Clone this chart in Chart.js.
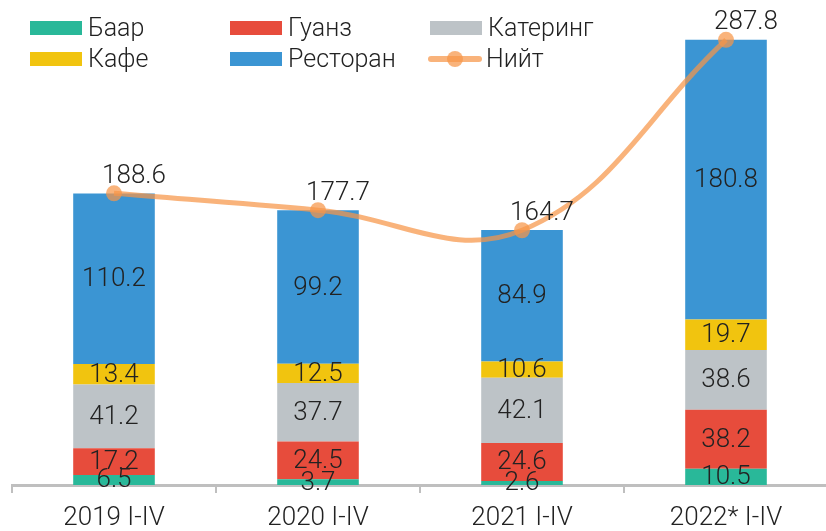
<!DOCTYPE html>
<html>
<head>
<meta charset="utf-8">
<script src="https://cdn.jsdelivr.net/npm/chart.js@4.4.0/dist/chart.umd.min.js"></script>
<style>
    body { margin: 0; background: #fff; overflow: hidden; }
    .wrap { position: relative; width: 836px; height: 547px; }
    .legend { position: absolute; left: 0; top: 0; font-family: 'Roboto', sans-serif; font-weight: 300; font-size: 25px; color: #222; }
    .item { position: absolute; white-space: nowrap; line-height: 28px; }
    .box { position: absolute; left: 0; top: 7px; width: 52px; height: 14px; }
    .item span.lbl { position: absolute; left: 58px; top: 0; }
</style>
</head>
<body>
<div class="wrap" id="wrap">
    <canvas id="chart"></canvas>
    <div class="legend" id="legend"></div>
</div>
<script>
// --- Data ---
const categories = ['2019 I-IV', '2020 I-IV', '2021 I-IV', '2022* I-IV'];
const baar = [6.5, 3.7, 2.6, 10.5];
const guanz = [17.2, 24.5, 24.6, 38.2];
const catering = [41.2, 37.7, 42.1, 38.6];
const cafe = [13.4, 12.5, 10.6, 19.7];
const restaurant = [110.2, 99.2, 84.9, 180.8];
const total = [188.6, 177.7, 164.7, 287.8];

const seriesNames = ['Баар', 'Гуанз', 'Катеринг', 'Кафе', 'Ресторан', 'Нийт'];
const colors = {
    baar: '#29B899',
    guanz: '#E74C3C',
    catering: '#BDC3C7',
    cafe: '#F1C40F',
    restaurant: '#3B95D3',
    line: 'rgba(246,150,72,0.72)'
};

const FONT = "300 26px 'Roboto', sans-serif";
const AXIS_Y = 485; // where the category axis line should sit

// --- Labels plugin ---
const labelPlugin = {
    id: 'valueLabels',
    afterDraw(chart) {
        const ctx = chart.ctx;
        ctx.save();
        ctx.font = FONT;
        ctx.fillStyle = '#222';
        ctx.textAlign = 'center';
        ctx.textBaseline = 'middle';
        chart.data.datasets.forEach((ds, i) => {
            const meta = chart.getDatasetMeta(i);
            meta.data.forEach((el, j) => {
                const v = ds.data[j];
                if (ds.type === 'line') {
                    // total labels sit above and a bit right of the point
                    ctx.fillText(v.toFixed(1), el.x + 20, el.y - 17);
                } else {
                    ctx.fillText(v.toFixed(1), el.x, (el.y + el.base) / 2 + 1);
                }
            });
        });
        ctx.restore();
    }
};

const barDs = (label, data, color) => ({
    type: 'bar',
    label: label,
    data: data,
    backgroundColor: color,
    borderWidth: 0,
    barPercentage: 0.4,
    categoryPercentage: 1,
    order: 1
});

const ctx = document.getElementById('chart').getContext('2d');
const chart = new Chart(ctx, {
    data: {
        labels: categories,
        datasets: [
            {
                type: 'line',
                label: seriesNames[5],
                data: total,
                borderColor: colors.line,
                backgroundColor: colors.line,
                borderWidth: 5,
                pointRadius: 8,
                pointBorderWidth: 0,
                pointBackgroundColor: colors.line,
                tension: 0.4,
                stack: 'total',
                order: 0
            },
            barDs(seriesNames[0], baar, colors.baar),
            barDs(seriesNames[1], guanz, colors.guanz),
            barDs(seriesNames[2], catering, colors.catering),
            barDs(seriesNames[3], cafe, colors.cafe),
            barDs(seriesNames[4], restaurant, colors.restaurant)
        ]
    },
    options: {
        responsive: true,
        maintainAspectRatio: false,
        animation: false,
        layout: { padding: { left: 12, right: 0, top: 21, bottom: 0 } },
        plugins: {
            legend: { display: false },
            tooltip: { enabled: false }
        },
        scales: {
            x: {
                stacked: true,
                grid: {
                    display: true,
                    drawOnChartArea: false,
                    drawTicks: true,
                    tickLength: 8,
                    color: '#BFBFBF',
                    lineWidth: 2
                },
                border: { display: true, color: '#BFBFBF', width: 3 },
                ticks: {
                    color: '#222',
                    padding: 10,
                    font: { family: 'Roboto', weight: '300', size: 26, lineHeight: 1.2 }
                }
            },
            y: {
                stacked: true,
                display: false,
                min: 0,
                max: 300
            }
        }
    },
    plugins: [labelPlugin]
});

// grow the canvas so the axis line lands on AXIS_Y, the overflow is cropped
const wrap = document.getElementById('wrap');
const diff = AXIS_Y - chart.chartArea.bottom;
wrap.style.height = (wrap.clientHeight + diff) + 'px';
chart.resize();

// --- HTML legend ---
const legendItems = [
    { name: seriesNames[0], color: colors.baar, x: 30, y: 14 },
    { name: seriesNames[1], color: colors.guanz, x: 230, y: 14 },
    { name: seriesNames[2], color: colors.catering, x: 430, y: 14 },
    { name: seriesNames[3], color: colors.cafe, x: 30, y: 45 },
    { name: seriesNames[4], color: colors.restaurant, x: 230, y: 45 },
    { name: seriesNames[5], color: colors.line, x: 428, y: 45, line: true }
];
const legend = document.getElementById('legend');
legendItems.forEach(it => {
    const d = document.createElement('div');
    d.className = 'item';
    d.style.left = it.x + 'px';
    d.style.top = it.y + 'px';
    let mark;
    if (it.line) {
        mark = '<div style="position:absolute;left:0;top:11px;width:54px;height:6px;border-radius:3px;background:' + it.color + '"></div>' +
               '<div style="position:absolute;left:19px;top:6px;width:16px;height:16px;border-radius:50%;background:' + it.color + '"></div>';
    } else {
        mark = '<div class="box" style="background:' + it.color + '"></div>';
    }
    d.innerHTML = mark + '<span class="lbl">' + it.name + '</span>';
    legend.appendChild(d);
});
</script>
</body>
</html>
